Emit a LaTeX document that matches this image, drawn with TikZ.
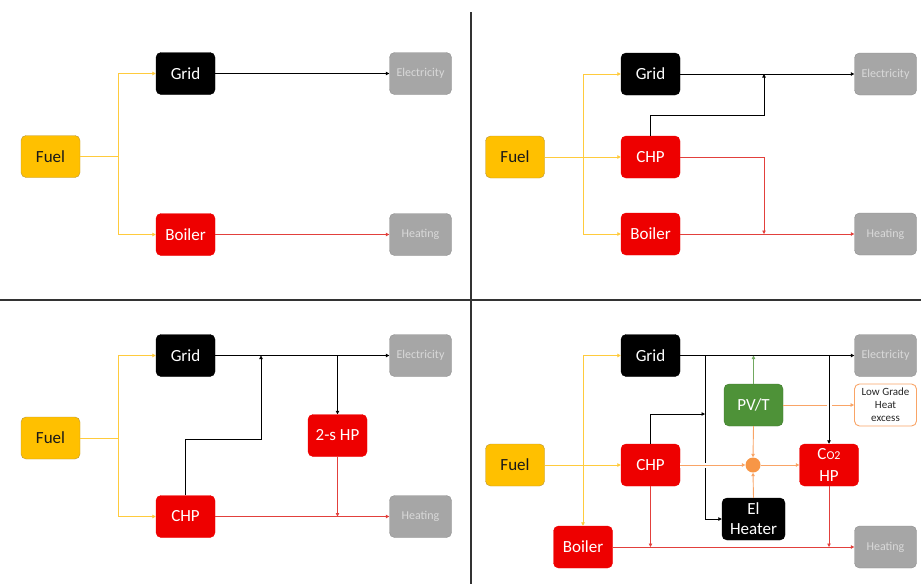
\documentclass[tikz,border=0pt]{standalone}
\usepackage{fontspec}
\setmainfont{Carlito}
\usetikzlibrary{arrows.meta}

\definecolor{fuelfill}{HTML}{FFC000}
\definecolor{fuelborder}{HTML}{B8963A}
\definecolor{fuelwire}{HTML}{FFCB3D}
\definecolor{hotred}{HTML}{EE0000}
\definecolor{redwire}{HTML}{E2403C}
\definecolor{sinkgrey}{HTML}{A6A6A6}
\definecolor{sinkborder}{HTML}{8E8E8E}
\definecolor{pvgreen}{HTML}{4E9238}
\definecolor{pvborder}{HTML}{3F7A2C}
\definecolor{warm}{HTML}{F79646}
\definecolor{warmwire}{HTML}{F9A466}

\tikzset{
  unit/.style={rectangle, rounded corners=5pt, minimum width=59pt,
    minimum height=42pt, inner sep=0pt, align=center,
    font=\fontsize{17}{20}\selectfont},
  fuelbox/.style={unit, fill=fuelfill, draw=fuelborder, text=black!90},
  gridbox/.style={unit, fill=black, draw=black, text=white},
  redbox/.style={unit, fill=hotred, draw=hotred, text=white},
  sinkbox/.style={unit, minimum width=62pt, fill=sinkgrey, draw=sinkborder,
    text=white!85!black, font=\fontsize{12}{14}\selectfont},
  pvbox/.style={unit, fill=pvgreen, draw=pvborder, text=white},
  excessbox/.style={unit, minimum width=62pt, fill=white, draw=warmwire,
    line width=0.9pt, text=black!85, font=\fontsize{11}{13}\selectfont},
  mixer/.style={circle, fill=warm, minimum size=15pt, inner sep=0pt},
  tip/.style={-{Triangle[length=3.5pt,width=3.5pt]}},
  fline/.style={draw=fuelwire, line width=1pt},
  eline/.style={draw=black, line width=0.8pt},
  hline/.style={draw=redwire, line width=0.8pt},
  gline/.style={draw=pvgreen!80, line width=0.8pt},
  oline/.style={draw=warmwire, line width=0.9pt},
  gap/.style={preaction={draw=white, line width=5pt, -}},
  divider/.style={draw=black!80, line width=1.2pt}
}

\begin{document}
\begin{tikzpicture}[x=1pt, y=-1pt]
  \useasboundingbox (0,0) rectangle (921,584);

  % quadrant dividers
  \draw[divider] (471,12) -- (471,584);
  \draw[divider] (0,300) -- (921,300);

  % top left: fuel to grid and boiler
  \node[fuelbox] (fuel1) at (50.5,156.5) {Fuel};
  \node[gridbox] (grid1) at (185.5,73.5) {Grid};
  \node[redbox] (boiler1) at (185.5,234.5) {Boiler};
  \node[sinkbox] (elec1) at (420.5,73.5) {Electricity};
  \node[sinkbox] (heat1) at (420.5,234.5) {Heating};
  \coordinate (split1) at (118,156.5);
  \draw[fline] (fuel1.east) -- (split1);
  \draw[fline,tip] (split1) |- (grid1.west);
  \draw[fline,tip] (split1) |- (boiler1.west);
  \draw[eline,tip] (grid1) -- (elec1);
  \draw[hline,tip] (boiler1) -- (heat1);

  % top right: with CHP
  \node[fuelbox] (fuel2) at (515,157) {Fuel};
  \node[gridbox] (grid2) at (650.5,74) {Grid};
  \node[redbox] (chp2) at (650.5,157) {CHP};
  \node[redbox] (boiler2) at (650.5,234) {Boiler};
  \node[sinkbox] (elec2) at (885.5,74) {Electricity};
  \node[sinkbox] (heat2) at (885.5,234) {Heating};
  \coordinate (split2) at (583,157);
  \coordinate (j2) at (764,74);
  \coordinate (k2) at (764,234);
  \draw[fline] (fuel2.east) -- (split2);
  \draw[fline,tip] (split2) -- (chp2.west);
  \draw[fline,tip] (split2) |- (grid2.west);
  \draw[fline,tip] (split2) |- (boiler2.west);
  \draw[eline,tip] (grid2) -- (elec2);
  \draw[eline,tip] (chp2.north) -- ++(0,-20) -| (j2);
  \draw[hline,tip] (boiler2) -- (heat2);
  \draw[hline,tip] (chp2.east) -| (k2);

  % bottom left: CHP and two-stage heat pump
  \node[fuelbox] (fuel3) at (50.5,438) {Fuel};
  \node[gridbox] (grid3) at (185.5,355.5) {Grid};
  \node[redbox] (chp3) at (185.5,516.5) {CHP};
  \node[redbox] (hp3) at (337.5,435.5) {2-s HP};
  \node[sinkbox] (elec3) at (420.5,355.5) {Electricity};
  \node[sinkbox] (heat3) at (420.5,516.5) {Heating};
  \coordinate (split3) at (118,438);
  \coordinate (j3) at (261,355.5);
  \coordinate (t3) at (337.5,355.5);
  \coordinate (b3) at (337.5,516.5);
  \draw[fline] (fuel3.east) -- (split3);
  \draw[fline,tip] (split3) |- (grid3.west);
  \draw[fline,tip] (split3) |- (chp3.west);
  \draw[eline,tip] (grid3) -- (elec3);
  \draw[eline,tip] (chp3.north) -- ++(0,-56) -| (j3);
  \draw[eline,tip] (t3) -- (hp3.north);
  \draw[hline,tip] (chp3) -- (heat3);
  \draw[hline,tip] (hp3.south) -- (b3);

  % bottom right: full system
  \node[gridbox] (grid4) at (650.5,355.5) {Grid};
  \node[sinkbox] (elec4) at (885.5,355.5) {Electricity};
  \node[pvbox] (pvt4) at (753.5,405) {PV/T};
  \node[excessbox] (low4) at (885.5,405) {Low Grade\\Heat\\excess};
  \node[fuelbox] (fuel4) at (515,465) {Fuel};
  \node[redbox] (chp4) at (650.5,465) {CHP};
  \node[mixer] (mix4) at (753,465) {};
  \node[redbox, font=\fontsize{17}{22}\selectfont] (hp4) at (829,465)
    {C{\fontsize{12}{12}\selectfont O2}\\HP};
  \node[gridbox, minimum width=63pt, font=\fontsize{17}{20}\selectfont]
    (heater4) at (753.5,519) {El\\Heater};
  \node[redbox] (boiler4) at (583,547) {Boiler};
  \node[sinkbox] (heat4) at (885.5,547) {Heating};
  \coordinate (ytop4) at (583,355.5);
  \coordinate (a4) at (705,355.5);
  \coordinate (c4) at (829,355.5);
  \coordinate (d4) at (705,414);
  \coordinate (e4) at (753.5,355.5);
  \coordinate (f4) at (650.5,547);
  \coordinate (g4) at (829,547);
  \draw[fline,tip] (fuel4) -- (chp4);
  \draw[fline,tip] (ytop4) -- (grid4.west);
  \draw[fline,tip] (ytop4) -- (boiler4.north);
  \draw[oline,tip] (pvt4.east) -- (low4.west);
  \draw[eline,tip,gap] (c4) -- (hp4.north);
  \draw[eline,tip] (a4) |- (heater4.west);
  \draw[eline,tip] (chp4.north) |- (d4);
  \draw[oline,tip,gap] (chp4.east) -- (mix4.west);
  \draw[oline,tip] (mix4.east) -- (hp4.west);
  \draw[oline,tip] (pvt4.south) -- (mix4.north);
  \draw[oline,tip] (heater4.north) -- (mix4.south);
  \draw[gline,tip] (pvt4.north) -- (e4);
  \draw[eline,tip] (grid4) -- (elec4);
  \draw[hline,tip] (boiler4) -- (heat4);
  \draw[hline,tip] (chp4.south) -- (f4);
  \draw[hline,tip] (hp4.south) -- (g4);
\end{tikzpicture}
\end{document}
